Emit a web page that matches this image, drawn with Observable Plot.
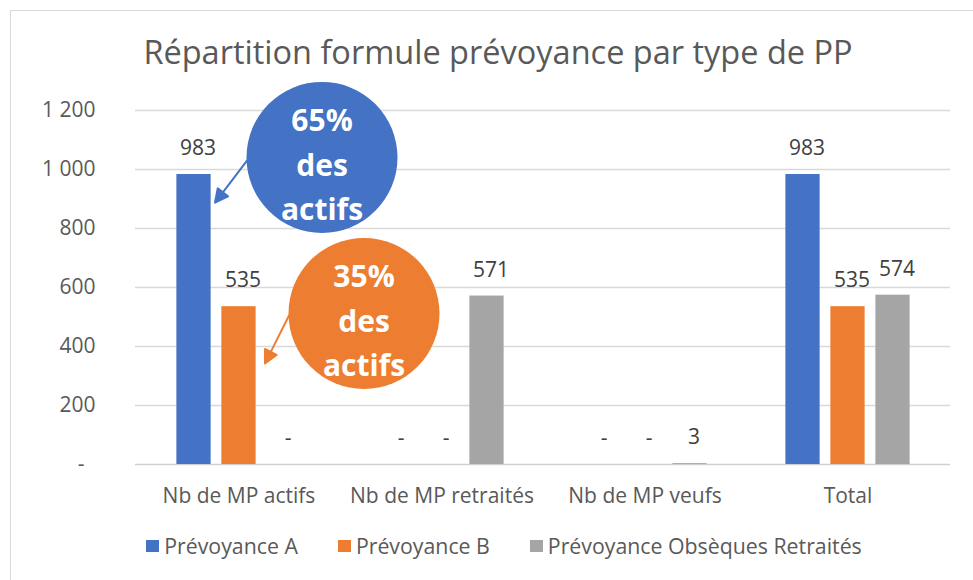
<!DOCTYPE html>
<html>
<head>
<meta charset="utf-8">
<script src="https://cdn.jsdelivr.net/npm/d3@7"></script>
<script src="https://cdn.jsdelivr.net/npm/@observablehq/plot@0.6"></script>
<style>
  html, body { margin: 0; padding: 0; background: #fff; overflow: hidden; }
  body { width: 973px; height: 580px; font-family: "Open Sans", sans-serif; }
  #frame { position: absolute; left: 10px; top: 10px; width: 990px; height: 600px; border: 1px solid #d9d9d9; box-sizing: border-box; }
  #title { width: 962px; box-sizing: border-box; padding-left: 12px; padding-top: 21px; height: 64px; line-height: 40px; text-align: center; font-size: 32.5px; color: #595959; white-space: nowrap; }
  #chart svg { display: block; }
  #legend { width: 962px; box-sizing: border-box; padding-left: 24px; margin-top: 24px; line-height: 24px; font-size: 21.3px; color: #595959; display: flex; justify-content: center; gap: 40px; white-space: nowrap; }
  #legend .item { display: flex; align-items: center; }
  #legend .sw { width: 13px; height: 12px; margin-right: 5px; display: inline-block; }
</style>
</head>
<body>
<div id="frame">
  <div id="title">Répartition formule prévoyance par type de PP</div>
  <div id="chart"></div>
  <div id="legend"></div>
</div>
<script>
// ---- data ----
const categories = ["Nb de MP actifs", "Nb de MP retraités", "Nb de MP veufs", "Total"];
const seriesNames = ["Prévoyance A", "Prévoyance B", "Prévoyance Obsèques Retraités"];
const prevoyanceA = [983, 0, 0, 983];
const prevoyanceB = [535, 0, 0, 535];
const obsequesRetraites = [0, 571, 3, 574];
const yTickValues = [0, 200, 400, 600, 800, 1000, 1200];
const seriesColors = ["#4472C4", "#ED7D31", "#A5A5A5"];

const seriesValues = [prevoyanceA, prevoyanceB, obsequesRetraites];
const rows = seriesNames.map((s, si) => categories.map((c, ci) => ({cat: c, series: s, si, value: seriesValues[si][ci]})));

// share of actifs per formula (annotation text)
const actifsTotal = prevoyanceA[0] + prevoyanceB[0];
const shareA = prevoyanceA[0] / actifsTotal;
const shareB = prevoyanceB[0] / actifsTotal;

const fmtNum = d => d === 0 ? "-" : d3.format(",")(d).replace(/,/g, "\u00a0");
const fmtTick = d => d === 0 ? "-\u00a0\u00a0" : d3.format(",")(d).replace(/,/g, " ");

const step = 45, barW = 35;
const W = 962, H = 435;
const mL = 124, mR = 23, mT = 35, mB = 46;
const bandW = (W - mL - mR) / categories.length;
const inset = (bandW - barW) / 2;

const triArrow = {
  draw(ctx, l, r) {
    const h = 13, w = 6.5;
    ctx.moveTo(0, 0);
    ctx.lineTo(0, -l + h);
    ctx.moveTo(0, -l);
    ctx.lineTo(-w, -l + h);
    ctx.lineTo(w, -l + h);
    ctx.closePath();
  }
};

const barMarks = rows.map((data, si) =>
  Plot.barY(data, {x: "cat", y: "value", fill: seriesColors[si], dx: (si - 1) * step, insetLeft: inset, insetRight: inset})
);
const labelMarks = rows.map((data, si) =>
  Plot.text(data, {x: "cat", y: "value", text: d => fmtNum(d.value), dx: (si - 1) * step + 4, dy: -26, fill: "#404040", fontSize: 21, lineAnchor: "middle"})
);

const anno = [
  {cat: categories[0], text: `${Math.round(shareA * 100)}%\ndes\nactifs`, color: seriesColors[0]},
  {cat: categories[0], text: `${Math.round(shareB * 100)}%\ndes\nactifs`, color: seriesColors[1]}
];

const plot = Plot.plot({
  width: W, height: H,
  marginLeft: mL, marginRight: mR, marginTop: mT, marginBottom: mB,
  style: {fontFamily: "Open Sans", fontSize: "21px", color: "#595959", background: "transparent", overflow: "visible"},
  x: {domain: categories, padding: 0, label: null},
  y: {domain: [0, 1200], label: null},
  marks: [
    Plot.gridY(yTickValues.filter(d => d > 0), {stroke: "#d9d9d9", strokeOpacity: 1, strokeWidth: 1.3}),
    Plot.ruleY([0], {stroke: "#d0d0d0", strokeWidth: 1.5}),
    Plot.axisY({ticks: yTickValues, tickSize: 0, tickPadding: 40, tickFormat: fmtTick, label: null, fill: "#595959"}),
    Plot.axisX({tickSize: 0, tickPadding: 24, label: null, fill: "#595959"}),
    ...barMarks,
    ...labelMarks,
    // annotation bubbles
    Plot.dot([anno[0]], {x: "cat", y: () => 1041, r: 75.5, fill: seriesColors[0], dx: 83, stroke: null}),
    Plot.dot([anno[1]], {x: "cat", y: () => 512, r: 75.5, fill: seriesColors[1], dx: 125, stroke: null}),
    Plot.vector([anno[0]], {x: "cat", y: () => 1030, dx: 8, length: 52.8, rotate: 217.3, anchor: "start", shape: triArrow, stroke: seriesColors[0], fill: seriesColors[0], strokeWidth: 2}),
    Plot.vector([anno[1]], {x: "cat", y: () => 505, dx: 50, length: 53.7, rotate: 206.6, anchor: "start", shape: triArrow, stroke: seriesColors[1], fill: seriesColors[1], strokeWidth: 2}),
    Plot.text([anno[0]], {x: "cat", y: () => 1041, dx: 83, dy: 4, text: "text", fill: "white", fontSize: 30, fontWeight: "bold", lineHeight: 1.47, lineAnchor: "middle"}),
    Plot.text([anno[1]], {x: "cat", y: () => 512, dx: 125, dy: 4, text: "text", fill: "white", fontSize: 30, fontWeight: "bold", lineHeight: 1.47, lineAnchor: "middle"})
  ]
});
document.getElementById("chart").appendChild(plot);

const legend = document.getElementById("legend");
seriesNames.forEach((s, i) => {
  const item = document.createElement("div");
  item.className = "item";
  const sw = document.createElement("span");
  sw.className = "sw";
  sw.style.background = seriesColors[i];
  const t = document.createElement("span");
  t.textContent = s;
  item.appendChild(sw); item.appendChild(t);
  legend.appendChild(item);
});
</script>
</body>
</html>
